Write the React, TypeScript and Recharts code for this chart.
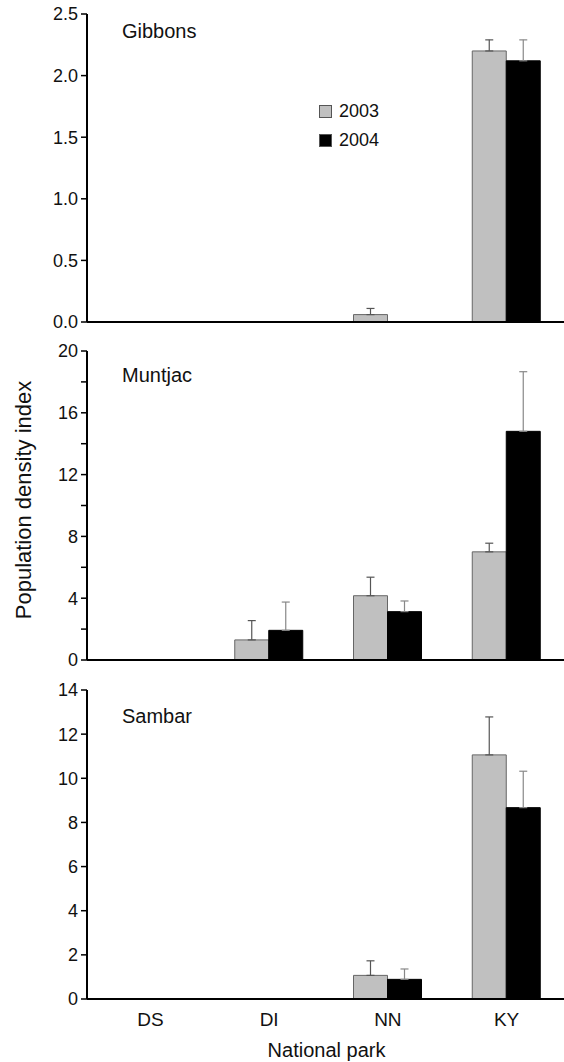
import { BarChart, Bar, XAxis, YAxis, ErrorBar, Legend } from 'recharts'

const parks = ['DS', 'DI', 'NN', 'KY']

// Gibbons
const gibbons2003 = [0, 0, 0.06, 2.2]
const gibbons2003Err = [0, 0, 0.05, 0.09]
const gibbons2004 = [0, 0, 0, 2.12]
const gibbons2004Err = [0, 0, 0, 0.17]

// Muntjac
const muntjac2003 = [0, 1.3, 4.16, 7.0]
const muntjac2003Err = [0, 1.25, 1.2, 0.56]
const muntjac2004 = [0, 1.92, 3.13, 14.8]
const muntjac2004Err = [0, 1.83, 0.69, 3.86]

// Sambar
const sambar2003 = [0, 0, 1.07, 11.06]
const sambar2003Err = [0, 0, 0.66, 1.72]
const sambar2004 = [0, 0, 0.89, 8.67]
const sambar2004Err = [0, 0, 0.47, 1.65]

const gibbonTicks = [0, 0.5, 1, 1.5, 2, 2.5]
const muntjacTicks = [0, 2, 4, 6, 8, 10, 12, 14, 16, 18, 20]
const sambarTicks = [0, 2, 4, 6, 8, 10, 12, 14]

const FONT = '"Liberation Sans", Arial, sans-serif'
const GREY = '#c0c0c0'

function rows(a: number[], ae: number[], b: number[], be: number[]) {
  return parks.map((park, i) => ({
    park,
    y2003: a[i],
    e2003: [0, ae[i]],
    y2004: b[i],
    e2004: [0, be[i]],
  }))
}

const tickStyle = { fontSize: 18, fill: '#111', fontFamily: FONT }

function LegendBox({ payload }: any) {
  return (
    <div style={{ fontFamily: FONT, fontSize: 18, color: '#111' }}>
      {(payload || []).map((p: any) => (
        <div key={p.value} style={{ display: 'flex', alignItems: 'center', height: 29 }}>
          <span
            style={{
              display: 'inline-block',
              width: 11,
              height: 11,
              background: p.color,
              border: '1px solid #555',
              marginRight: 7,
            }}
          />
          {p.value}
        </div>
      ))}
    </div>
  )
}

function Panel({
  data,
  ticks,
  domain,
  fmt,
  height,
  top,
  xHeight,
  bottom,
  showX,
  legend,
}: any) {
  return (
    <BarChart
      width={564}
      height={height}
      data={data}
      margin={{ top, right: -2, left: 0, bottom }}
      barSize={34}
      barGap={0}
    >
      <XAxis
        dataKey="park"
        height={xHeight}
        padding={{ left: 4, right: 0 }}
        axisLine={{ stroke: '#000', strokeWidth: 2 }}
        tickLine={false}
        tick={showX ? { fontSize: 19, fill: '#111', fontFamily: FONT } : false}
        tickMargin={8}
        label={
          showX
            ? { value: 'National park', position: 'insideBottom', offset: 2, fontSize: 20, fill: '#111', fontFamily: FONT }
            : undefined
        }
      />
      <YAxis
        width={87}
        domain={domain}
        ticks={ticks}
        interval={0}
        tickFormatter={fmt}
        axisLine={{ stroke: '#000', strokeWidth: 2 }}
        tickLine={{ stroke: '#000', strokeWidth: 1.5 }}
        tickSize={6}
        tickMargin={3}
        tick={tickStyle}
      />
      {legend && (
        <Legend
          layout="vertical"
          align="center"
          verticalAlign="middle"
          content={<LegendBox />}
          wrapperStyle={{ left: 319, top: 97, width: 90 }}
        />
      )}
      <Bar dataKey="y2003" name="2003" fill={GREY} stroke="#666" strokeWidth={1} isAnimationActive={false}>
        <ErrorBar dataKey="e2003" direction="y" width={4} stroke="#555" strokeWidth={1.2} />
      </Bar>
      <Bar dataKey="y2004" name="2004" fill="#000" stroke="#000" strokeWidth={1} isAnimationActive={false}>
        <ErrorBar dataKey="e2004" direction="y" width={4} stroke="#888" strokeWidth={1.2} />
      </Bar>
    </BarChart>
  )
}

const panelLabel = (text: string, top: number) => (
  <div
    style={{
      position: 'absolute',
      left: 122,
      top,
      fontFamily: FONT,
      fontSize: 20,
      color: '#111',
    }}
  >
    {text}
  </div>
)

export default function App() {
  return (
    <div style={{ position: 'absolute', left: 0, top: 0, width: 564, height: 1062, background: '#fff', overflow: 'hidden' }}>
      <div style={{ position: 'absolute', left: 0, top: 0 }}>
        <Panel
          data={rows(gibbons2003, gibbons2003Err, gibbons2004, gibbons2004Err)}
          ticks={gibbonTicks}
          domain={[0, 2.5]}
          fmt={(v: number) => v.toFixed(1)}
          height={335}
          top={14}
          xHeight={13}
          bottom={0}
          showX={false}
          legend
        />
      </div>
      <div style={{ position: 'absolute', left: 0, top: 335 }}>
        <Panel
          data={rows(muntjac2003, muntjac2003Err, muntjac2004, muntjac2004Err)}
          ticks={muntjacTicks}
          domain={[0, 20]}
          fmt={(v: number) => (v % 4 === 0 ? String(v) : '')}
          height={345}
          top={16}
          xHeight={20}
          bottom={0}
          showX={false}
        />
      </div>
      <div style={{ position: 'absolute', left: 0, top: 680 }}>
        <Panel
          data={rows(sambar2003, sambar2003Err, sambar2004, sambar2004Err)}
          ticks={sambarTicks}
          domain={[0, 14]}
          fmt={(v: number) => String(v)}
          height={382}
          top={10}
          xHeight={60}
          bottom={3}
          showX
        />
      </div>
      {panelLabel('Gibbons', 20)}
      {panelLabel('Muntjac', 364)}
      {panelLabel('Sambar', 705)}
      <div
        style={{
          position: 'absolute',
          left: 24,
          top: 500,
          transform: 'translate(-50%, -50%) rotate(-90deg)',
          whiteSpace: 'nowrap',
          fontFamily: FONT,
          fontSize: 22,
          color: '#111',
        }}
      >
        Population density index
      </div>
    </div>
  )
}
